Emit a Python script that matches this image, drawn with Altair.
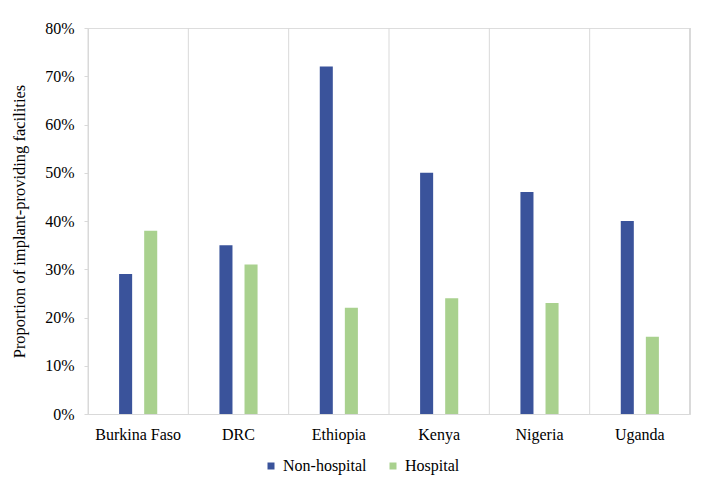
import altair as alt
import pandas as pd

countries = ["Burkina Faso", "DRC", "Ethiopia", "Kenya", "Nigeria", "Uganda"]
series = ["Non-hospital", "Hospital"]
non_hospital = [29, 35, 72, 50, 46, 40]
hospital = [38, 31, 22, 24, 23, 16]
y_ticks = [0, 0.1, 0.2, 0.3, 0.4, 0.5, 0.6, 0.7, 0.8]
colors = ["#3A539B", "#A9D18E"]

rows = []
for c, nh, h in zip(countries, non_hospital, hospital):
    rows.append({"country": c, "type": "Non-hospital", "value": nh / 100})
    rows.append({"country": c, "type": "Hospital", "value": h / 100})
df = pd.DataFrame(rows)
grid_df = pd.DataFrame({"country": countries})

W, H = 602, 386
FONT = "Liberation Serif"
GRID = "#d9d9d9"

xscale = alt.Scale(domain=countries, paddingInner=0, paddingOuter=0)
xaxis = alt.Axis(
    title=None, grid=False, ticks=False, domainColor=GRID, labelAngle=0,
    labelFontSize=16, labelPadding=12, labelColor="black", labelFont=FONT,
)
# two empty slots flank the two bars so they sit near the band centre
offset_domain = ["_left"] + series + ["_right"]

bars = alt.Chart(df).mark_bar().encode(
    x=alt.X("country:N", sort=countries, scale=xscale, axis=xaxis),
    xOffset=alt.XOffset(
        "type:N",
        scale=alt.Scale(domain=offset_domain, paddingInner=0.48, paddingOuter=0.24),
    ),
    y=alt.Y(
        "value:Q",
        scale=alt.Scale(domain=[0, 0.8], nice=False),
        axis=alt.Axis(
            format=".0%", values=y_ticks, title="Proportion of implant-providing facilities",
            grid=False, domainColor=GRID, tickColor=GRID, tickSize=4,
            labelFontSize=16, labelFont=FONT, labelColor="black", labelPadding=10,
            titleFont=FONT, titleFontSize=16.5, titleFontWeight="normal", titleColor="black",
            titlePadding=17,
        ),
    ),
    color=alt.Color(
        "type:N", sort=series,
        scale=alt.Scale(domain=series, range=colors),
        legend=alt.Legend(
            title=None, orient="none", direction="horizontal", legendX=175, legendY=430,
            symbolType="square", symbolSize=49, symbolStrokeWidth=0,
            labelFont=FONT, labelFontSize=16, labelColor="black", labelOffset=4,
            columnPadding=18,
        ),
    ),
)

grid = alt.Chart(grid_df).mark_rule(color=GRID, strokeWidth=1).encode(
    x=alt.X("country:N", scale=xscale, bandPosition=0, axis=xaxis),
    y=alt.value(0),
    y2=alt.value(H),
)
grid_end = alt.Chart(grid_df).mark_rule(color=GRID, strokeWidth=1).encode(
    x=alt.value(W), y=alt.value(0), y2=alt.value(H)
)

chart = (
    alt.layer(grid, grid_end, bars)
    .properties(
        width=W, height=H,
        autosize=alt.AutoSizeParams(type="none"),
        padding={"left": 80, "top": 20, "right": 16, "bottom": 68},
    )
    .configure_view(stroke=None)
    .configure(background="white", font=FONT)
    .configure_axis(labelFont=FONT, titleFont=FONT)
    .configure_legend(labelFont=FONT)
)

chart.save("out.html", embed_options={"renderer": "svg", "actions": False})
